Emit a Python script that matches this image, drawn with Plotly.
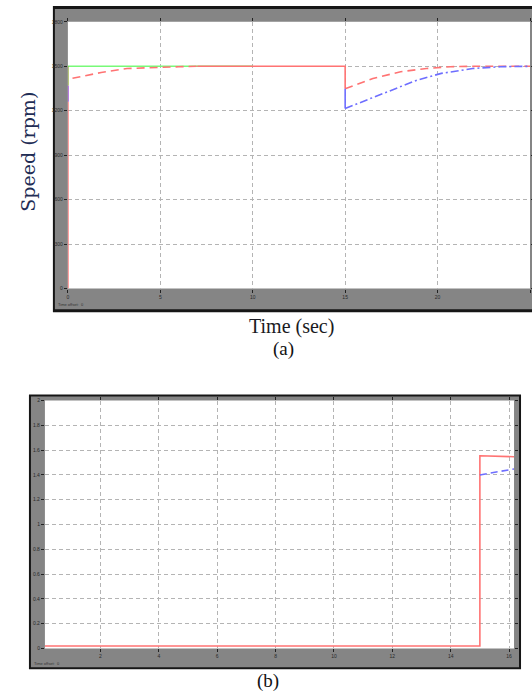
import plotly.graph_objects as go

W, H = 532, 700

# ---------------- panel (a): speed response (rpm) ----------------
a_x_ticks = [0, 5, 10, 15, 20, 25]
a_x_labels = ["0", "5", "10", "15", "20", "25"]
a_y_ticks = [0, 300, 600, 900, 1200, 1500, 1800]
a_y_labels = ["0", "300", "600", "900", "1200", "1500", "1800"]

# reference speed
ref_t = [0, 10]
ref_w = [1500, 1500]

# start-up edge at t = 0
start_t = [0, 0]
start_w = [0, 1260]
start_mid_t = [0, 0]
start_mid_w = [1260, 1370]
start_top_t = [0, 0]
start_top_w = [1370, 1500]

# red response: start-up transient
red_rise_t = [0.25, 1.0, 1.8, 3.2, 4.5, 6.0, 7.0]
red_rise_w = [1419, 1440, 1458, 1485, 1492, 1497, 1500]
# red response: steady state and load step
red_flat_t = [7.0, 15.0, 15.0]
red_flat_w = [1500, 1500, 1348]
# red response: recovery after the load step
red_rec_t = [15.0, 16.5, 18.0, 19.4, 20.7, 22.0, 25.0]
red_rec_w = [1348, 1418, 1463, 1485, 1497, 1500, 1500]

# blue response: dip and recovery after the load step
blue_drop_t = [15.0, 15.0]
blue_drop_w = [1348, 1215]
blue_rec_t = [15.0, 17.1, 18.9, 20.2, 21.9, 23.4, 25.0]
blue_rec_w = [1215, 1317, 1407, 1452, 1485, 1497, 1500]

# ---------------- panel (b) ----------------
b_x_ticks = [2, 4, 6, 8, 10, 12, 14, 16]
b_x_labels = ["2", "4", "6", "8", "10", "12", "14", "16"]
b_y_ticks = [0, 0.2, 0.4, 0.6, 0.8, 1.0, 1.2, 1.4, 1.6, 1.8, 2.0]
b_y_labels = ["0", "0.2", "0.4", "0.6", "0.8", "1", "1.2", "1.4", "1.6", "1.8", "2"]

b_red_t = [0.1, 15.0, 15.0, 16.17]
b_red_v = [0.02, 0.02, 1.555, 1.547]
b_blue_t = [15.0, 16.17]
b_blue_v = [1.40, 1.448]

RED = "rgb(255,115,115)"
GREEN = "rgb(120,250,120)"
BLUE = "rgb(110,110,255)"
PURPLE = "rgb(150,60,210)"
OLIVE = "rgb(150,170,60)"
GRAY = "#858585"
GRID = "#b4b4b4"


def px(x):
    return x / W


def py(y):
    return 1 - y / H


fig = go.Figure()


def add(x, y, color, dash="solid", width=1.6, xa="x", ya="y"):
    fig.add_trace(go.Scatter(x=x, y=y, mode="lines", xaxis=xa, yaxis=ya,
                             line=dict(color=color, dash=dash, width=width),
                             showlegend=False, hoverinfo="skip"))


# panel (a) traces
add(ref_t, ref_w, GREEN)
add(start_t, start_w, RED)
add(start_mid_t, start_mid_w, PURPLE)
add(start_top_t, start_top_w, OLIVE)
add(red_rise_t, red_rise_w, RED, dash="8px,5px")
add(red_flat_t, red_flat_w, RED)
add(red_rec_t, red_rec_w, RED, dash="8px,5px")
add(blue_drop_t, blue_drop_w, BLUE)
add(blue_rec_t, blue_rec_w, BLUE, dash="8px,3px,2px,3px")

# panel (b) traces
add(b_red_t, b_red_v, RED, xa="x2", ya="y2")
add(b_blue_t, b_blue_v, BLUE, dash="7px,4px", xa="x2", ya="y2")

tickfont = dict(family="Liberation Sans", size=5, color="#2a2a2a")
axis_common = dict(showgrid=True, gridcolor=GRID, griddash="4px,3px", gridwidth=1,
                   zeroline=False, showline=False, ticks="outside", ticklen=3,
                   tickcolor="#222", tickwidth=1, tickfont=tickfont, mirror="ticks",
                   fixedrange=True)

# frames: dark border, gray scope body, white plotting area
shapes = []


def rect(x0, y0, x1, y1, color):
    shapes.append(dict(type="rect", xref="paper", yref="paper", layer="below",
                       x0=px(x0), x1=px(x1), y0=py(y1), y1=py(y0),
                       fillcolor=color, line=dict(width=0)))


rect(52, 3, 545, 312, "#161616")
rect(54, 6, 545, 309, GRAY)
rect(67, 19, 530, 288, "white")

rect(28, 395, 521, 672, "#161616")
rect(30, 397, 519, 670, GRAY)
rect(44, 401, 514, 651, "white")

ann = [
    dict(text="Speed (rpm)", x=px(27), y=py(150), textangle=-90,
         font=dict(family="DejaVu Serif", size=19, color="#1f2d55")),
    dict(text="Time (sec)", x=px(291), y=py(326),
         font=dict(family="Liberation Serif", size=20, color="#1a1a22")),
    dict(text="(a)", x=px(283), y=py(349),
         font=dict(family="Liberation Serif", size=19, color="#111")),
    dict(text="(b)", x=px(268), y=py(684),
         font=dict(family="Liberation Serif", size=19, color="#111")),
    dict(text="Time offset:  0", x=px(55), y=py(304), xanchor="left",
         font=dict(family="Liberation Sans", size=4, color="#333")),
    dict(text="Time offset:  0", x=px(31), y=py(666), xanchor="left",
         font=dict(family="Liberation Sans", size=4, color="#333")),
]
for a in ann:
    a.update(xref="paper", yref="paper", showarrow=False)
    a.setdefault("xanchor", "center")
    a.setdefault("yanchor", "middle")

fig.update_layout(
    width=W, height=H, margin=dict(l=0, r=0, t=0, b=0),
    paper_bgcolor="white", plot_bgcolor="rgba(0,0,0,0)",
    shapes=shapes, annotations=ann,
    xaxis=dict(domain=[px(67), px(530)], range=[0, 25], anchor="y",
               tickvals=a_x_ticks, ticktext=a_x_labels, **axis_common),
    yaxis=dict(domain=[py(288), py(19)], range=[0, 1800], anchor="x",
               tickvals=a_y_ticks, ticktext=a_y_labels, **axis_common),
    xaxis2=dict(domain=[px(44), px(514)], range=[0.1, 16.17], anchor="y2",
                tickvals=b_x_ticks, ticktext=b_x_labels, **axis_common),
    yaxis2=dict(domain=[py(651), py(401)], range=[0, 2], anchor="x2",
                tickvals=b_y_ticks, ticktext=b_y_labels, **axis_common),
)

fig.write_html("out.html")
